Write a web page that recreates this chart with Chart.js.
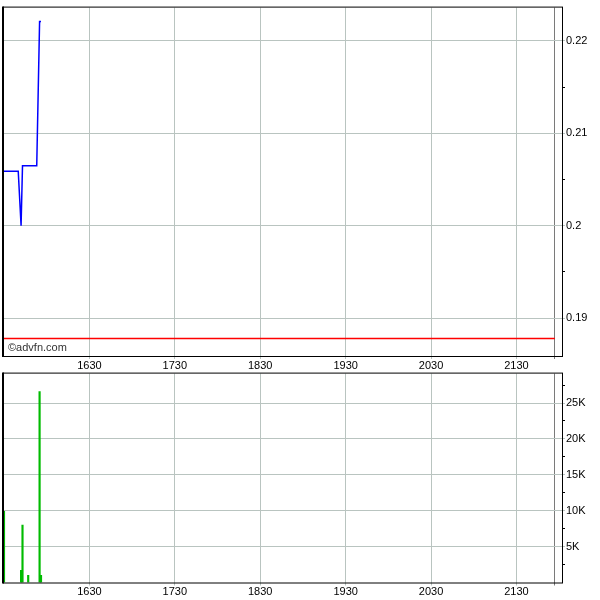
<!DOCTYPE html>
<html>
<head>
<meta charset="utf-8">
<script src="https://cdn.jsdelivr.net/npm/chart.js@4.4.0/dist/chart.umd.min.js"></script>
<style>
  html, body { margin: 0; padding: 0; background: #fff; }
  #wrap { position: relative; width: 600px; height: 600px; }
  #price { position: absolute; left: 0; top: 0; }
  #vol { position: absolute; left: 0; top: 366px; }
</style>
</head>
<body>
<div id="wrap">
  <canvas id="price" width="600" height="370"></canvas>
  <canvas id="vol" width="600" height="234"></canvas>
</div>
<script>
// time axis (HHMM)
const timeLabels = ['1630', '1730', '1830', '1930', '2030', '2130'];
const sessionStart = '1530';
const sessionEnd = '2157';
const axisEnd = '2202';

// price panel
const priceTimes = ['1530', '1540', '1542', '1543', '1553', '1555', '1556'];
const priceValues = [0.2059, 0.2059, 0.2000, 0.2065, 0.2065, 0.2221, 0.2221];
const prevClose = 0.1878;
const priceTicks = [0.19, 0.20, 0.21, 0.22];
const priceMin = 0.1859;
const priceMax = 0.2236;

// volume panel
const volTimes = ['1530', '1542', '1543', '1547', '1555', '1556'];
const volValues = [9900, 1700, 8000, 1000, 26600, 1000];
const volTicks = [5000, 10000, 15000, 20000, 25000];
const volMax = 29100;

const FONT = { family: 'Liberation Sans', size: 11 };
const gridCol = '#b9c4c0';
const endCol = '#7a7a7a';

function toMin(s) {
  return parseInt(s.slice(0, 2)) * 60 + parseInt(s.slice(2));
}

function fmtTime(m) {
  const h = Math.floor(m / 60), mm = m % 60;
  return String(h) + String(mm).padStart(2, '0');
}

const xTickVals = timeLabels.map(toMin).concat([toMin(sessionEnd)]);

// majors plus half-step minors
function withMinors(majors, lo, hi) {
  const step = majors[1] - majors[0];
  const out = [];
  for (let i = -1; i < majors.length; i++) {
    const m = (i < 0 ? majors[0] - step : majors[i]);
    if (i >= 0) out.push({ value: m, major: true });
    const half = m + step / 2;
    if (half > lo && half < hi) out.push({ value: half, major: false });
  }
  return out;
}

const framePlugin = {
  id: 'frame',
  afterDraw(chart) {
    const { ctx, chartArea: a } = chart;
    ctx.save();
    ctx.strokeStyle = '#000';
    ctx.lineWidth = 1;
    ctx.strokeRect(a.left - 0.5, a.top - 0.5, a.right - a.left + 1, a.bottom - a.top + 1);
    ctx.lineWidth = 2;
    ctx.beginPath();
    ctx.moveTo(a.left - 1, a.top - 1);
    ctx.lineTo(a.left - 1, a.bottom + 1);
    ctx.stroke();
    if (chart.options.plugins.frame && chart.options.plugins.frame.credit) {
      ctx.fillStyle = '#333';
      ctx.font = '11px "Liberation Sans"';
      ctx.textBaseline = 'middle';
      ctx.fillText('\u00a9advfn.com', a.left + 4, a.bottom - 8);
    }
    ctx.restore();
  }
};

function xScale(h) {
  return {
    type: 'linear',
    min: toMin(sessionStart),
    max: toMin(axisEnd),
    offset: false,
    afterBuildTicks: s => { s.ticks = xTickVals.map(v => ({ value: v })); },
    afterFit: s => { s.height = h; },
    grid: {
      offset: false,
      color: c => (c.tick && c.tick.value === toMin(sessionEnd)) ? endCol : gridCol,
      tickColor: c => (c.tick && c.tick.value === toMin(sessionEnd)) ? endCol : gridCol,
      tickLength: 3
    },
    border: { display: false },
    ticks: {
      autoSkip: false, maxRotation: 0, padding: 0, color: '#000', font: FONT,
      callback: v => v === toMin(sessionEnd) ? '' : fmtTime(v)
    }
  };
}

function yScale(majors, lo, hi, fmt) {
  const all = withMinors(majors, lo, hi);
  const isMajor = v => majors.some(t => Math.abs(t - v) < 1e-9);
  return {
    position: 'right',
    min: lo,
    max: hi,
    afterBuildTicks: s => { s.ticks = all.map(t => ({ value: t.value })); },
    afterFit: s => { s.width = 38; },
    grid: {
      color: c => (c.tick && isMajor(c.tick.value)) ? gridCol : 'rgba(0,0,0,0)',
      tickColor: c => (c.tick && isMajor(c.tick.value)) ? gridCol : '#000',
      tickLength: 3
    },
    border: { display: false },
    ticks: {
      padding: 1, color: '#000', font: FONT,
      callback: v => isMajor(v) ? fmt(v) : ''
    }
  };
}

new Chart(document.getElementById('price'), {
  type: 'line',
  data: {
    datasets: [
      {
        data: priceTimes.map((t, i) => ({ x: toMin(t), y: priceValues[i] })),
        borderColor: '#0000ff',
        borderWidth: 1.5,
        pointRadius: 0,
        tension: 0
      },
      {
        data: [{ x: toMin(sessionStart), y: prevClose }, { x: toMin(sessionEnd), y: prevClose }],
        borderColor: '#ff0000',
        borderWidth: 1.5,
        pointRadius: 0
      }
    ]
  },
  options: {
    responsive: false,
    animation: false,
    devicePixelRatio: 1,
    layout: { padding: { left: 4, top: 4, right: 0, bottom: 0 } },
    plugins: { legend: { display: false }, tooltip: { enabled: false }, frame: { credit: true } },
    scales: {
      x: xScale(14),
      y: yScale(priceTicks, priceMin, priceMax, v => String(Number(v.toFixed(2))))
    }
  },
  plugins: [framePlugin]
});

new Chart(document.getElementById('vol'), {
  type: 'bar',
  data: {
    datasets: [{
      data: volTimes.map((t, i) => ({ x: toMin(t), y: volValues[i] })),
      backgroundColor: '#00bb00',
      barThickness: 1.5
    }]
  },
  options: {
    responsive: false,
    animation: false,
    devicePixelRatio: 1,
    layout: { padding: { left: 4, top: 5, right: 0, bottom: 0 } },
    plugins: { legend: { display: false }, tooltip: { enabled: false } },
    scales: {
      x: xScale(17.5),
      y: yScale(volTicks, 0, volMax, v => (v / 1000) + 'K')
    }
  },
  plugins: [framePlugin]
});
</script>
</body>
</html>
